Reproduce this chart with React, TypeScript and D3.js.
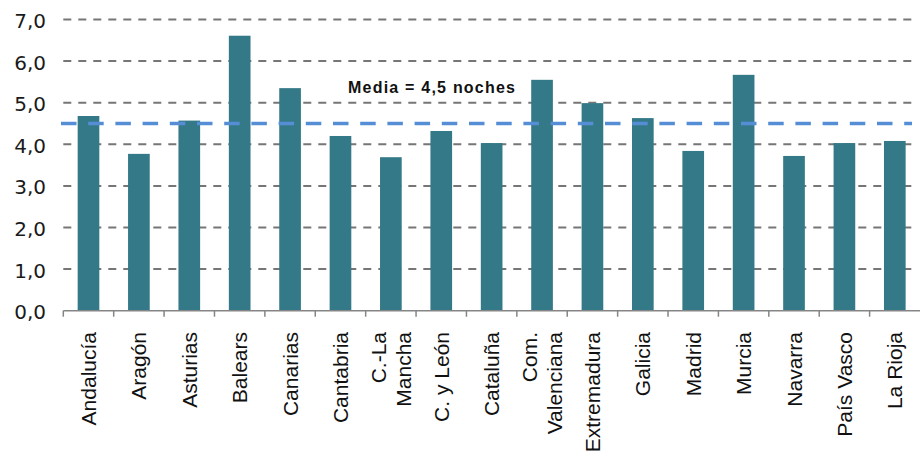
import React from "react";
import * as d3 from "d3";

const categories: string[][] = [
  ["Andalucía"], ["Aragón"], ["Asturias"], ["Balears"], ["Canarias"], ["Cantabria"],
  ["C.-La", "Mancha"], ["C. y León"], ["Cataluña"], ["Com.", "Valenciana"], ["Extremadura"],
  ["Galicia"], ["Madrid"], ["Murcia"], ["Navarra"], ["País Vasco"], ["La Rioja"],
];
const values: number[] = [4.68, 3.77, 4.57, 6.61, 5.35, 4.2, 3.69, 4.32, 4.03, 5.55, 4.99, 4.63, 3.84, 5.67, 3.72, 4.03, 4.08];
const yTicks: number[] = [0, 1, 2, 3, 4, 5, 6, 7];
const meanValue = 4.5;
const meanLabel = "Media = 4,5 noches";

const W = 921;
const H = 457;
const left = 63.3;
const right = 920;
const top = 19.5;
const bottom = 310.7;

export default function App() {
  const keys = categories.map((c) => c.join(" "));
  const x = d3.scaleBand<string>().domain(keys).range([left, right]).paddingInner(0).paddingOuter(0);
  const y = d3.scaleLinear().domain([0, 7]).range([bottom, top]);
  const bw = x.bandwidth();
  const barW = bw * 0.43;
  const fmt = (v: number) => v.toFixed(1).replace(".", ",");

  return (
    <svg width={W} height={H} style={{ position: "absolute", left: 0, top: 0, background: "#fff" }}>
      {/* gridlines */}
      {yTicks.filter((t) => t > 0).map((t) => (
        <line key={"g" + t} x1={left} x2={916} y1={y(t)} y2={y(t)} stroke="#767676" strokeWidth={2} strokeDasharray="8 7" />
      ))}
      {/* y tick labels */}
      {yTicks.map((t) => (
        <text key={"yl" + t} x={46} y={y(t)} dy="0.42em" textAnchor="end" fontFamily="DejaVu Sans" fontSize={20} fill="#1a1a1a">
          {fmt(t)}
        </text>
      ))}
      {/* bars */}
      {values.map((v, i) => (
        <rect key={"b" + i} x={(x(keys[i]) as number) + (bw - barW) / 2} y={y(v)} width={barW} height={y(0) - y(v)} fill="#347987" />
      ))}
      {/* x axis */}
      <line x1={left} x2={right} y1={bottom} y2={bottom} stroke="#858585" strokeWidth={1.5} />
      {keys.map((k, i) => (
        <line key={"t" + i} x1={x(k) as number} x2={x(k) as number} y1={bottom} y2={bottom + 6} stroke="#858585" strokeWidth={1.5} />
      ))}
      {/* mean line */}
      <line x1={61} x2={912} y1={y(meanValue)} y2={y(meanValue)} stroke="#558ED5" strokeWidth={3.3} strokeDasharray="15.5 11.7" />
      <text x={348} y={93} fontFamily="Liberation Sans, Arial" fontWeight="bold" fontSize={16} textLength={167} lengthAdjust="spacing" fill="#111">
        {meanLabel}
      </text>
      {/* x labels */}
      {categories.map((lines, i) => {
        const cx = (x(keys[i]) as number) + bw / 2;
        const n = lines.length;
        return (
          <text key={"xl" + i} transform={`translate(${cx},332) rotate(-90)`} textAnchor="end" fontFamily="Liberation Sans, Arial" fontSize={21} fill="#111">
            {lines.map((ln, j) => (
              <tspan key={j} x={0} dy={j === 0 ? `${0.36 - ((n - 1) * 1.2) / 2}em` : "1.2em"}>
                {ln}
              </tspan>
            ))}
          </text>
        );
      })}
    </svg>
  );
}
